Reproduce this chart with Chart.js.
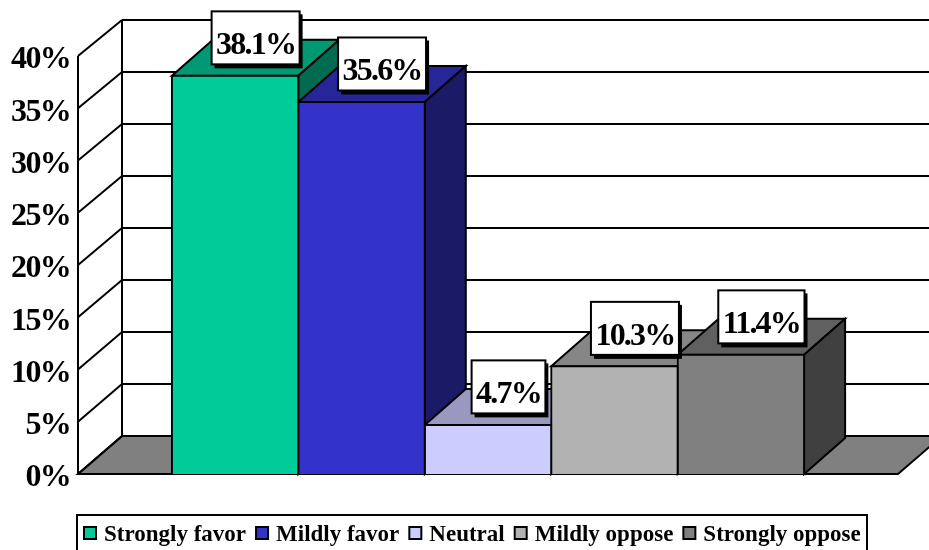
<!DOCTYPE html>
<html>
<head>
<meta charset="utf-8">
<title>Strongly favor to strongly oppose</title>
<style>
  html, body { margin: 0; padding: 0; background: #fff; overflow: hidden; }
  canvas { display: block; }
</style>
<script src="https://cdn.jsdelivr.net/npm/chart.js@4"></script>
</head>
<body>
<canvas id="opinionChart" width="929" height="550"></canvas>
<script>
const categories = ['Strongly favor', 'Mildly favor', 'Neutral', 'Mildly oppose', 'Strongly oppose'];
const shares = [38.1, 35.6, 4.7, 10.3, 11.4];
const yTicks = [0, 5, 10, 15, 20, 25, 30, 35, 40];

const faceColors = ['#00CC99', '#3333CC', '#CCCCFF', '#B2B2B2', '#808080'];
const topColors = ['#009973', '#262699', '#9999BF', '#868686', '#606060'];
const sideColors = ['#006B50', '#1A1A66', '#666680', '#595959', '#404040'];

const FONT = '"Liberation Serif", "Times New Roman", serif';
const BAR_DX = 41, BAR_DY = 36;   // depth of the boxes
const WALL_DX = 44;               // depth of the back wall

// the back wall is very slightly shorter than the front plane
function wallY(scale, v) {
  return scale.getPixelForValue(v) - 38 + 2 * v / 40;
}

function poly(ctx, pts, fill) {
  ctx.beginPath();
  pts.forEach((p, i) => i ? ctx.lineTo(p[0], p[1]) : ctx.moveTo(p[0], p[1]));
  ctx.closePath();
  if (fill) { ctx.fillStyle = fill; ctx.fill(); }
  ctx.stroke();
}

function line(ctx, x1, y1, x2, y2) {
  ctx.beginPath();
  ctx.moveTo(x1, y1);
  ctx.lineTo(x2, y2);
  ctx.stroke();
}

// Walls, floor and the top and side of every box, behind the front faces
const box3d = {
  id: 'box3d',
  beforeDraw(chart) {
    chart.ctx.letterSpacing = '-1.7px';
  },
  beforeDatasetsDraw(chart) {
    const { ctx, chartArea: area, scales: { y } } = chart;
    const bx = area.left + WALL_DX;
    const w = chart.width;
    ctx.save();
    ctx.strokeStyle = '#000';
    ctx.lineWidth = 2;
    ctx.lineJoin = 'miter';

    // floor
    const by0 = wallY(y, 0), fy0 = y.getPixelForValue(0);
    poly(ctx, [[area.left, fy0], [bx, by0], [area.right + WALL_DX, by0], [area.right, fy0]], '#808080');

    // gridlines on side and back walls
    yTicks.forEach(v => {
      const fy = y.getPixelForValue(v), by = wallY(y, v);
      line(ctx, area.left, fy, bx, by);
      if (v > 0) line(ctx, bx, by, w, by);
    });
    line(ctx, area.left, y.getPixelForValue(40), area.left, fy0);
    line(ctx, bx, wallY(y, 40), bx, by0);

    // left to right so each box hides the side of the previous one
    shares.forEach((v, i) => {
      const bar = chart.getDatasetMeta(i).data[0];
      const l = bar.x - bar.width / 2, r = bar.x + bar.width / 2;
      const top = bar.y, base = bar.base;
      poly(ctx, [[l, top], [l + BAR_DX, top - BAR_DY], [r + BAR_DX, top - BAR_DY], [r, top]], topColors[i]);
      poly(ctx, [[r, top], [r + BAR_DX, top - BAR_DY], [r + BAR_DX, base - BAR_DY], [r, base]], sideColors[i]);
    });
    ctx.restore();
  },
  afterDatasetsDraw(chart) {
    const { ctx } = chart;
    ctx.save();
    ctx.font = 'bold 32px ' + FONT;
    ctx.letterSpacing = '-1.8px';
    ctx.textAlign = 'left';
    ctx.textBaseline = 'alphabetic';
    shares.forEach((v, i) => {
      const bar = chart.getDatasetMeta(i).data[0];
      const text = v.toFixed(1) + '%';
      const tw = ctx.measureText(text).width;
      const bw = tw + 9, bh = 53;
      const cx = bar.x + 20.5, cy = bar.y - 38;
      const bl = cx - bw / 2, bt = cy - bh / 2;
      ctx.fillStyle = '#000';
      ctx.fillRect(bl + 3, bt + 3, bw, bh + 1);
      ctx.fillStyle = '#fff';
      ctx.strokeStyle = '#000';
      ctx.lineWidth = 2;
      ctx.fillRect(bl, bt, bw, bh);
      ctx.strokeRect(bl, bt, bw, bh);
      ctx.fillStyle = '#000';
      ctx.fillText(text, cx - tw / 2, bt + 43);
    });
    ctx.restore();
  },
  // legend strip along the bottom edge
  afterDraw(chart) {
    const { ctx } = chart;
    ctx.save();
    ctx.strokeStyle = '#000';
    ctx.lineWidth = 2;
    ctx.strokeRect(77, 515, 790, 40);
    ctx.font = 'bold 23px ' + FONT;
    ctx.letterSpacing = '0px';
    ctx.textAlign = 'left';
    ctx.textBaseline = 'alphabetic';
    let x = 84;
    categories.forEach((name, i) => {
      ctx.fillStyle = faceColors[i];
      ctx.fillRect(x, 527, 12, 12);
      ctx.strokeRect(x, 527, 12, 12);
      ctx.fillStyle = '#000';
      ctx.fillText(name, x + 20, 541);
      x += 20 + ctx.measureText(name).width + 10;
    });
    ctx.restore();
  }
};

new Chart(document.getElementById('opinionChart'), {
  type: 'bar',
  data: {
    labels: [''],
    datasets: categories.map((name, i) => ({
      label: name,
      data: [shares[i]],
      backgroundColor: faceColors[i],
      borderColor: '#000',
      borderWidth: 2,
      inflateAmount: 1
    }))
  },
  options: {
    responsive: false,
    animation: false,
    layout: { padding: { top: 56, right: 31, bottom: 76, left: 0 } },
    datasets: { bar: { barPercentage: 1, categoryPercentage: 0.771 } },
    plugins: { legend: { display: false }, title: { display: false }, tooltip: { enabled: false } },
    scales: {
      x: { display: false },
      y: {
        min: 0,
        max: 40,
        afterFit(scale) { scale.width = 78; },
        afterBuildTicks(scale) { scale.ticks = yTicks.map(value => ({ value })); },
        grid: { display: false, drawTicks: false },
        border: { display: false },
        ticks: {
          color: '#000',
          padding: 8,
          labelOffset: 4,
          font: { family: FONT, size: 32, weight: 'bold' },
          callback: v => v + '%'
        }
      }
    }
  },
  plugins: [box3d]
});
</script>
</body>
</html>
